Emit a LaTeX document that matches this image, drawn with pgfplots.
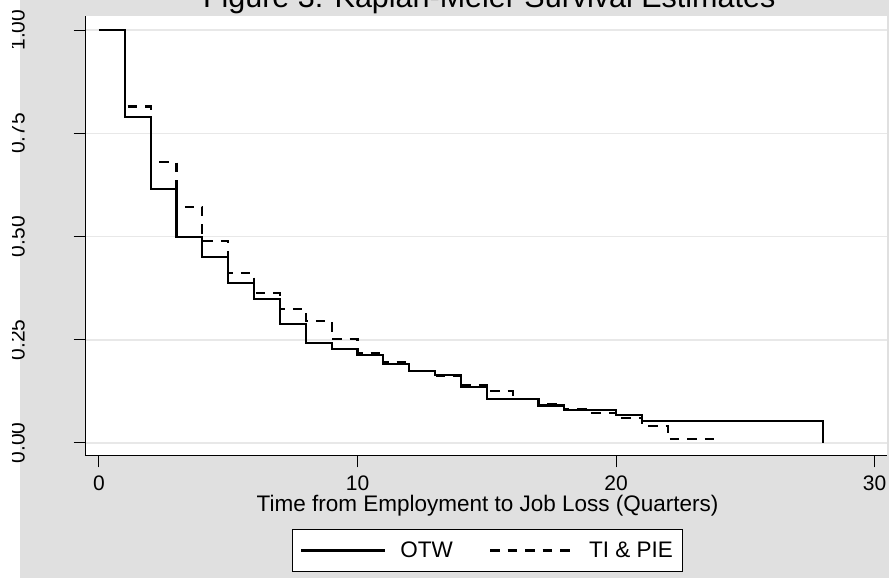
\documentclass[border=0pt]{standalone}
\usepackage{fontspec}
\setmainfont{Liberation Sans}
\usepackage{pgfplots}
\pgfplotsset{compat=1.18}
\definecolor{bg}{RGB}{224,224,224}
\definecolor{gridc}{RGB}{232,232,232}
\begin{document}
\begin{tikzpicture}[x=1pt,y=1pt]
\fill[white] (0,0) rectangle (889,578);
\fill[bg] (19.5,0) rectangle (889,578);
\begin{axis}[
  scale only axis, width=802pt, height=440.3pt,
  at={(85pt,122pt)}, anchor=south west,
  xmin=-0.54, xmax=30.48, ymin=-0.0315, ymax=1.035,
  axis background/.style={fill=white},
  axis x line*=bottom, axis y line*=left,
  axis line style={line width=1pt,-},
  tick align=outside, major tick length=11.5pt,
  tick style={line width=1pt, black},
  xtick={0,10,20,30}, xticklabels={0,10,20,30},
  ytick={0,0.25,0.5,0.75,1}, yticklabels={0.00,0.25,0.50,0.75,1.00},
  minor tick num=0,
  ymajorgrids, grid style={gridc, line width=1.5pt},
  every tick label/.append style={font=\fontsize{21}{25}\selectfont, inner sep=0pt},
  xticklabel shift=8.5pt,
  yticklabel style={rotate=90, anchor=south},
  yticklabel shift=48.5pt,
  title={Figure 3: Kaplan-Meier Survival Estimates},
  title style={font=\fontsize{30.5}{34}\selectfont, at={(axis description cs:0.504,1)}, anchor=base, yshift=2.4pt, inner sep=0pt},
  xlabel={Time from Employment to Job Loss (Quarters)},
  xlabel style={font=\fontsize{22.5}{26}\selectfont, at={(axis description cs:0.502,0)}, anchor=base, yshift=-56pt, inner sep=0pt},
  legend columns=2,
  legend style={at={(axis description cs:0.502,-0.2635)}, anchor=south, draw=black, line width=1pt, fill=white,
    font=\fontsize{22.5}{26}\selectfont, inner xsep=8pt, inner ysep=10.5pt,
    /tikz/every odd column/.append style={column sep=12pt},
    /tikz/every even column/.append style={column sep=34pt}},
  legend image code/.code={\draw[#1] (0pt,0pt) -- (84pt,0pt);},
]
\addplot[const plot, black, line width=2.2pt] coordinates {
(0,1.0) (1,0.789) (2,0.616) (3,0.498) (4,0.450) (5,0.388) (6,0.348) (7,0.288)
(8,0.243) (9,0.228) (10,0.214) (11,0.191) (12,0.175) (13,0.165) (14,0.136)
(15,0.106) (17,0.091) (18,0.080) (20,0.067) (21,0.0525) (28,0)
};
\addlegendentry{OTW}
\addplot[const plot, black, line width=2.2pt, dash pattern=on 9.5pt off 8pt] coordinates {
(0,1.0) (1,0.815) (2,0.680) (3,0.572) (4,0.490) (5,0.411) (6,0.363) (7,0.325)
(8,0.296) (9,0.251) (10,0.217) (11,0.195) (12,0.174) (13,0.163) (14,0.140)
(15,0.125) (16,0.107) (17,0.094) (18,0.082) (19,0.073) (20,0.061) (21,0.041)
(22,0.009) (24,0.009)
};
\addlegendentry{TI \& PIE}
\end{axis}
\fill[white] (86,554) rectangle (886.5,562.3);
\fill[white] (0,0) rectangle (11.5,578);
\pgfresetboundingbox
\path[use as bounding box] (0,0) rectangle (889,578);
\end{tikzpicture}
\end{document}
